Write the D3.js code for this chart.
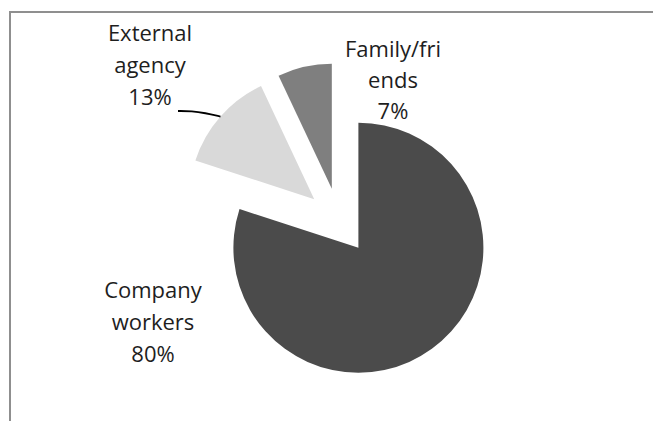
<!DOCTYPE html>
<html>
<head>
<meta charset="utf-8">
<script src="https://cdn.jsdelivr.net/npm/d3@7"></script>
<style>
  html, body { margin: 0; padding: 0; background: #fff; }
  svg { display: block; }
</style>
</head>
<body>
<div id="chart"></div>
<script>
"use strict";

// data
const categories = ["Company workers", "External agency", "Family/friends"];
const labelLines = [["Company", "workers"], ["External", "agency"], ["Family/fri", "ends"]];
const values = [80, 13, 7];
const sliceColors = ["#4b4b4b", "#d9d9d9", "#7f7f7f"];

const drawPie = () => {
  const width = 653, height = 421;
  const cx = 339, cy = 221, radius = 125, explode = 33;

  const svg = d3.select("#chart").append("svg")
    .attr("width", width)
    .attr("height", height);

  // chart area frame (only left and top edges visible)
  svg.append("rect")
    .attr("x", 10).attr("y", 12)
    .attr("width", 800).attr("height", 600)
    .attr("fill", "none")
    .attr("stroke", "#8f8f8f")
    .attr("stroke-width", 2);

  const pie = d3.pie().sort(null).value((d) => d)
    .startAngle(0).endAngle(2 * Math.PI);
  const arcs = pie(values);
  const arc = d3.arc().innerRadius(0).outerRadius(radius);

  const shift = (d) => {
    const mid = (d.startAngle + d.endAngle) / 2;
    return [explode * Math.sin(mid), -explode * Math.cos(mid)];
  };

  const g = svg.append("g").attr("transform", `translate(${cx},${cy})`);

  g.selectAll("path")
    .data(arcs)
    .enter()
    .append("path")
    .attr("d", arc)
    .attr("transform", (d) => `translate(${shift(d)})`)
    .attr("fill", (d, i) => sliceColors[i]);

  ///////////////////////////
  // labels
  ///////////////////////////
  const labelPos = [
    { x: 153, y: 298 },
    { x: 150, y: 41 },
    { x: 393, y: 57 }
  ];
  const lineH = 32;

  const labels = svg.selectAll("text.lbl")
    .data(arcs)
    .enter()
    .append("text")
    .attr("class", "lbl")
    .attr("text-anchor", "middle")
    .attr("font-family", "'Open Sans', 'Noto Sans', sans-serif")
    .attr("font-size", "22px")
    .attr("fill", "#1e1e1e");

  labels.each(function (d, i) {
    const t = d3.select(this);
    const lines = labelLines[i].concat([values[i] + "%"]);
    lines.forEach((ln, k) => {
      t.append("tspan")
        .attr("x", labelPos[i].x)
        .attr("y", labelPos[i].y + k * (i === 2 ? 31 : lineH))
        .text(ln);
    });
  });

  // leader line for External agency
  const ext = arcs[1];
  const mid = (ext.startAngle + ext.endAngle) / 2;
  const s = shift(ext);
  const end = [cx + s[0] + radius * Math.sin(mid), cy + s[1] - radius * Math.cos(mid)];
  const leader = d3.line().curve(d3.curveBasis);
  svg.append("path")
    .attr("d", leader([[178, 111], [192, 111], [205, 113], end]))
    .attr("fill", "none")
    .attr("stroke", "#000")
    .attr("stroke-width", 1.8);
};

drawPie();
</script>
</body>
</html>
